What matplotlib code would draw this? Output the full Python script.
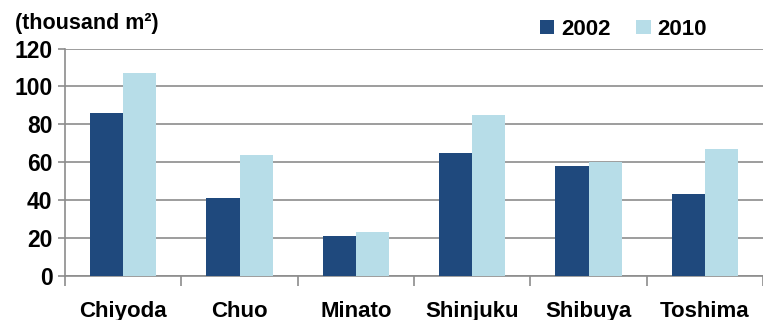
import numpy as np
import matplotlib.pyplot as plt
from matplotlib.ticker import FixedLocator

# Office floor area by ward (thousand m2)
wards = ['Chiyoda', 'Chuo', 'Minato', 'Shinjuku', 'Shibuya', 'Toshima']
area_2002 = [86, 41, 21, 65, 58, 43]
area_2010 = [107, 64, 23, 85, 60, 67]
years = ['2002', '2010']
colors = ['#1F497D', '#B7DDE8']

plt.rcParams['font.family'] = ['Liberation Sans', 'DejaVu Sans']
plt.rcParams['font.weight'] = 'bold'

fig = plt.figure(figsize=(7.63, 3.2), dpi=100)
ax = fig.add_axes([0.0852, 0.139, 0.9148, 0.709])

x = np.arange(len(wards))
w = 0.286
ax.bar(x - w / 2, area_2002, w, color=colors[0], label=years[0], zorder=3)
ax.bar(x + w / 2, area_2010, w, color=colors[1], label=years[1], zorder=3)

ax.set_xlim(-0.5, len(wards) - 0.5)
ax.set_ylim(0, 120)
ax.set_yticks(range(0, 121, 20))
ax.yaxis.grid(True, color='#8C8C8C', linewidth=1.2, zorder=0)

for s in ['top', 'right']:
    ax.spines[s].set_visible(False)
for s in ['left', 'bottom']:
    ax.spines[s].set_color('#8C8C8C')
    ax.spines[s].set_linewidth(1.2)

# category labels in the middle, tick marks between groups
ax.set_xticks(x)
ax.set_xticklabels(wards)
ax.tick_params(axis='x', which='major', length=0, pad=18, labelsize=16)
ax.xaxis.set_minor_locator(FixedLocator(np.arange(-0.5, len(wards), 1.0)))
ax.tick_params(axis='x', which='minor', length=7, width=1.2, color='#8C8C8C')
ax.tick_params(axis='y', length=5, width=1.2, color='#8C8C8C', pad=4, labelsize=16.5)

fig.text(0.02, 0.925, '(thousand m²)', fontsize=15.5, fontweight='bold',
         va='center', ha='left')

ax.legend(loc='center', bbox_to_anchor=(0.8, 1.085), ncol=2, frameon=False,
          fontsize=16, handlelength=0.65, handleheight=0.65, handletextpad=0.3,
          columnspacing=1.15)

fig.savefig('out.png', dpi=100)
